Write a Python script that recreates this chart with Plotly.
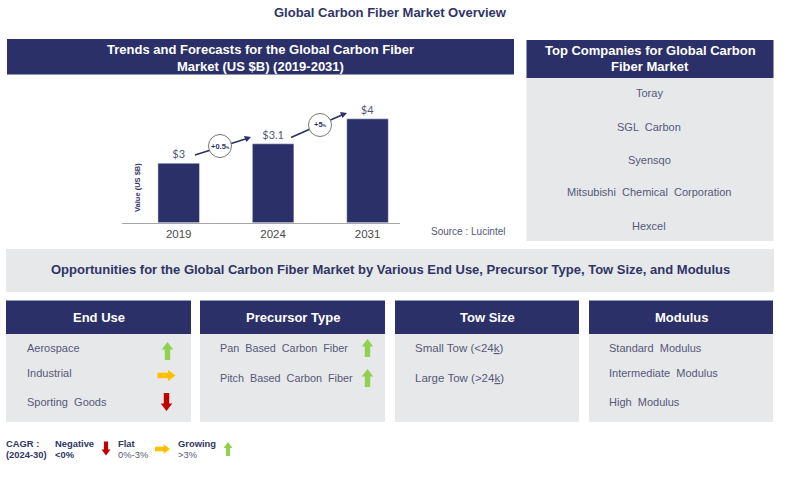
import plotly.graph_objects as go

# Global Carbon Fiber Market overview slide

W = 800
H = 491

years = ["2019", "2024", "2031"]
# bar heights as drawn in the picture (the slide's bars are not to scale with their labels)
bar_heights = [3.0, 3.98, 5.24]
bar_labels = ["$3", "$3.1", "$4"]
growth_labels = ["+0.5", "+5"]

companies = ["Toray", "SGL  Carbon", "Syensqo", "Mitsubishi  Chemical  Corporation", "Hexcel"]
end_use = ["Aerospace", "Industrial", "Sporting  Goods"]
end_use_trend = ["up", "right", "down"]
precursor = ["Pan  Based  Carbon  Fiber", "Pitch  Based  Carbon  Fiber"]
precursor_trend = ["up", "up"]
tow_size = ["Small Tow (<24<u>k</u>)", "Large Tow (>24<u>k</u>)"]
modulus = ["Standard  Modulus", "Intermediate  Modulus", "High  Modulus"]
group_names = ["End Use", "Precursor Type", "Tow Size", "Modulus"]

NAVY = "#2b3068"
GREY = "#e7e8ea"
TEXT = "#555878"
TITLE = "#2f3566"
GREEN = "#92d050"
ORANGE = "#ffc000"
RED = "#c00000"
FONT = "Liberation Sans"


def fx(x):
    return x / W


def fy(y):
    return 1 - y / H


shapes = []
annotations = []


def panel(x0, y0, x1, y1, color):
    shapes.append(dict(type="rect", xref="paper", yref="paper", layer="below",
                       x0=fx(x0), x1=fx(x1), y0=fy(y0), y1=fy(y1),
                       fillcolor=color, line_width=0))


def label(x, y, text, size=11, color=TEXT, anchor="center", bold=False, angle=0):
    if bold:
        text = "<b>" + text.replace("<br>", "</b><br><b>") + "</b>"
    # annotations carry about 2px of padding on the anchored side
    if anchor == "left":
        x = x - 2
    annotations.append(dict(xref="paper", yref="paper", x=fx(x), y=fy(y), text=text,
                            showarrow=False, xanchor=anchor, yanchor="middle", textangle=angle,
                            font=dict(family=FONT, size=size, color=color)))


def block_arrow(cx, cy, direction, length, color):
    # block arrow icon, drawn as a closed path around its centre
    half = length / 2
    stem = length * 0.15
    head = length * 0.32
    neck = half - length * 0.42
    if direction == "up":
        pts = [(0, -half), (head, -neck), (stem, -neck), (stem, half),
               (-stem, half), (-stem, -neck), (-head, -neck)]
    elif direction == "down":
        pts = [(0, half), (head, neck), (stem, neck), (stem, -half),
               (-stem, -half), (-stem, neck), (-head, neck)]
    else:
        pts = [(half, 0), (neck, head), (neck, stem), (-half, stem),
               (-half, -stem), (neck, -stem), (neck, -head)]
    path = "M " + " L ".join(f"{fx(cx + a):.5f},{fy(cy + b):.5f}" for a, b in pts) + " Z"
    shapes.append(dict(type="path", xref="paper", yref="paper", path=path,
                       fillcolor=color, line_width=0))


def growth_arrow(x0, y0, x1, y1, cx, cy, text):
    # line and head first, circle on top so that it hides the middle of the line
    shapes.append(dict(type="line", xref="paper", yref="paper", x0=fx(x0), y0=fy(y0),
                       x1=fx(x1 - 4), y1=fy(y1 + 1.5), line=dict(color=NAVY, width=1.6)))
    path = (f"M {fx(x1):.5f},{fy(y1):.5f} L {fx(x1 - 7):.5f},{fy(y1 - 1):.5f} "
            f"L {fx(x1 - 4.5):.5f},{fy(y1 + 5):.5f} Z")
    shapes.append(dict(type="path", xref="paper", yref="paper", path=path,
                       fillcolor=NAVY, line_width=0))
    r = 11.5
    shapes.append(dict(type="circle", xref="paper", yref="paper", x0=fx(cx - r), x1=fx(cx + r),
                       y0=fy(cy - r), y1=fy(cy + r), fillcolor="white",
                       line=dict(color="#555555", width=0.8)))
    label(cx, cy, f"<b>{text}<span style='font-size:4px'>%</span></b>", size=7.5, color=TITLE)


fig = go.Figure()
fig.add_trace(go.Bar(
    x=years,
    y=bar_heights,
    width=0.44,
    marker_color=NAVY,
    text=bar_labels,
    textposition="outside",
    cliponaxis=False,
    textfont=dict(family="Lato", size=11, color=TEXT),
))

# top title and the two upper panels
label(390, 12.5, "Global Carbon Fiber Market Overview", size=13, color=TITLE, bold=True)
panel(7, 39, 514, 74.5, NAVY)
label(260, 49.5, "Trends and Forecasts for the Global Carbon Fiber", size=13, color="white", bold=True)
label(260, 66, "Market (US $B) (2019-2031)", size=13, color="white", bold=True)
label(137, 188, "Value (US $B)", size=7.5, color=TITLE, bold=True, angle=-90)
label(468.5, 231, "Source : Lucintel", size=10, color=TEXT)

growth_arrow(195, 155, 251, 137, 220, 146, growth_labels[0])
growth_arrow(291, 137.5, 347, 113, 320, 125, growth_labels[1])

panel(526.5, 40, 773.5, 78, NAVY)
panel(526.5, 78, 773.5, 241, GREY)
label(650, 51, "Top Companies for Global Carbon", size=13, color="white", bold=True)
label(650, 66, "Fiber Market", size=13, color="white", bold=True)
company_y = [93.5, 126.5, 159.5, 192.5, 225.5]
for name, y in zip(companies, company_y):
    label(649, y, name)

# opportunities band
panel(6, 249, 774, 292, GREY)
label(390, 269, "Opportunities for the Global Carbon Fiber Market by Various End Use, Precursor Type, Tow Size, and Modulus",
      size=13, color=TITLE, bold=True)

# four category panels
column_edges = [(6, 191), (200, 385), (395, 579), (589, 773)]
for (x0, x1), name in zip(column_edges, group_names):
    panel(x0, 300.5, x1, 334, NAVY)
    panel(x0, 334, x1, 422, GREY)
    label((x0 + x1) / 2, 317, name, size=13, color="white", bold=True)

rows_three = [348, 373, 402]
rows_two = [348, 378]
for text, y in zip(end_use, rows_three):
    label(27, y, text, anchor="left")
for text, y in zip(precursor, rows_two):
    label(220, y, text, size=10.8, anchor="left")
for text, y in zip(tow_size, rows_two):
    label(415, y, text, size=11.5, anchor="left")
for text, y in zip(modulus, rows_three):
    label(609, y, text, anchor="left")

trend_colors = {"up": GREEN, "right": ORANGE, "down": RED}
icon_y = [351, 375.5, 402]
icon_x = [167.5, 166.5, 166.5]
for trend, x, y in zip(end_use_trend, icon_x, icon_y):
    block_arrow(x, y, trend, 18, trend_colors[trend])
for trend, y in zip(precursor_trend, [348, 378]):
    block_arrow(367.5, y, trend, 18, trend_colors[trend])

# CAGR key
label(6, 443, "CAGR :", size=9.4, color=TITLE, anchor="left", bold=True)
label(6, 454, "(2024-30)", size=9.4, color=TITLE, anchor="left", bold=True)
label(54.5, 443.5, "Negative", size=9.4, color=TITLE, anchor="left", bold=True)
label(54.5, 454, "<0%", size=9.4, color=TITLE, anchor="left", bold=True)
block_arrow(106, 448.5, "down", 14, RED)
label(117.5, 443, "Flat", size=9.4, color=TITLE, anchor="left", bold=True)
label(117.5, 454, "0%-3%", size=9.4, color=TEXT, anchor="left")
block_arrow(162.5, 449, "right", 15, ORANGE)
label(177.5, 443, "Growing", size=9.4, color=TITLE, anchor="left", bold=True)
label(177.5, 454, ">3%", size=9.4, color=TEXT, anchor="left")
block_arrow(228, 449, "up", 14, GREEN)

fig.update_layout(
    width=W,
    height=H,
    margin=dict(l=0, r=0, t=0, b=0),
    paper_bgcolor="white",
    plot_bgcolor="rgba(0,0,0,0)",
    showlegend=False,
    shapes=shapes,
    annotations=annotations,
    xaxis=dict(domain=[fx(121.7), fx(400)], range=[-0.604, 2.344], type="category",
               showline=True, linecolor="#a6a6a6", linewidth=1, ticks="", showgrid=False,
               tickfont=dict(family=FONT, size=11.5, color="#4a4a4a"), fixedrange=True),
    yaxis=dict(domain=[fy(222.7), fy(100)], range=[0, 6.19], visible=False, fixedrange=True),
)

fig.write_html("out.html", post_script="document.body.style.margin='0';", config=dict(displayModeBar=False))
